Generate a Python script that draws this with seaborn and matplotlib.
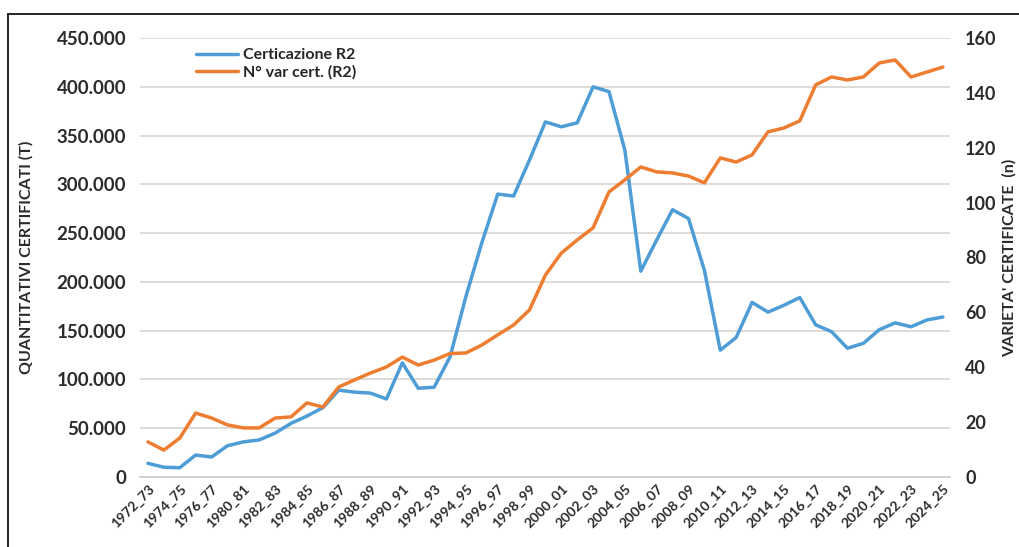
import numpy as np
import pandas as pd
import matplotlib
matplotlib.use("Agg")
import matplotlib.pyplot as plt
from matplotlib.lines import Line2D
from matplotlib.ticker import FuncFormatter
import seaborn as sns

# Stagioni (51 categorie, etichetta ogni 2)
seasons = (["1972_73", "1973_74", "1974_75", "1975_76", "1976_77", "1978_79"]
           + [f"{y}_{(y + 1) % 100:02d}" for y in range(1980, 2025)])

# Quantitativi certificati (t) - asse sinistro
cert_r2 = [14000, 10000, 9500, 22500, 20500, 32000, 36000, 38000, 45000, 55000,
           62500, 71000, 89000, 87000, 86000, 80000, 117000, 91000, 92000, 123000,
           185000, 240000, 290000, 288000, 325000, 364000, 359000, 363000, 400000, 395000,
           335000, 211000, 243000, 274000, 265000, 212000, 130000, 143000, 179000, 169000,
           176000, 184000, 156000, 149000, 132000, 137000, 151000, 158000, 154000, 161000,
           164000]

# Numero varieta' certificate - asse destro
n_var = [12.8, 9.8, 14.2, 23.3, 21.5, 19.0, 17.9, 17.9, 21.5, 21.9,
         27.0, 25.5, 32.8, 35.4, 37.9, 40.1, 43.7, 40.8, 42.6, 45.0,
         45.2, 48.1, 51.8, 55.4, 60.9, 73.6, 81.6, 86.4, 90.8, 103.9,
         108.3, 113.0, 111.2, 110.8, 109.7, 107.2, 116.3, 114.8, 117.4, 125.8,
         127.2, 129.8, 142.9, 145.8, 144.7, 145.8, 150.9, 152.0, 145.8, 147.6,
         149.4]

BLUE = "#4E9DD6"
ORANGE = "#ED7D31"
TXT = "#2b2b2b"

df = pd.DataFrame({"idx": np.arange(len(seasons)), "stagione": seasons,
                   "cert": cert_r2, "nvar": n_var})

sns.set_theme(style="white")
plt.rcParams["font.family"] = ["Lato", "DejaVu Sans"]

fig = plt.figure(figsize=(10.2, 5.47), dpi=100)
ax = fig.add_axes([140 / 1020, 70 / 547, 810 / 1020, 439 / 547])
ax2 = ax.twinx()

sns.lineplot(data=df, x="idx", y="cert", ax=ax, color=BLUE, linewidth=2.5)
sns.lineplot(data=df, x="idx", y="nvar", ax=ax2, color=ORANGE, linewidth=2.5)

ax.set_xlim(-0.5, len(seasons) - 0.55)
ax.set_ylim(0, 450000)
ax2.set_ylim(0, 160)
ax.set_yticks(np.arange(0, 450001, 50000))
ax2.set_yticks(np.arange(0, 161, 20))
ax.yaxis.set_major_formatter(FuncFormatter(lambda v, p: f"{v:,.0f}".replace(",", ".")))

ax.grid(axis="y", color="#d9d4d0", linewidth=1.2)
ax.set_axisbelow(True)
for a in (ax, ax2):
    for s in a.spines.values():
        s.set_visible(False)
ax.spines["bottom"].set_visible(True)
ax.spines["bottom"].set_color("#cfcac6")
ax.spines["bottom"].set_linewidth(1.2)

ax.set_xticks(df["idx"][::2])
ax.set_xticklabels(df["stagione"][::2], rotation=45, ha="right",
                   rotation_mode="anchor", fontsize=10, fontweight="bold", color=TXT)
ax.tick_params(axis="x", length=0, pad=4)
ax.tick_params(axis="y", length=0, pad=10, labelsize=13.5, labelcolor=TXT)
ax2.tick_params(axis="y", length=0, pad=11, labelsize=13, labelcolor=TXT)
for lab in ax.get_yticklabels() + ax2.get_yticklabels():
    lab.set_fontweight("bold")

ax.set_xlabel("")
ax.set_ylabel("QUANTITATIVI CERTIFICATI (T)", fontsize=11.5, fontweight="bold", color=TXT)
ax.yaxis.set_label_coords(-106 / 810, 0.5)
ax2.set_ylabel("VARIETA' CERTIFICATE  (n)", fontsize=11.5, fontweight="bold", color=TXT,
               rotation=90)
ax2.yaxis.set_label_coords(1 + 52 / 810, 0.5)

handles = [Line2D([], [], color=BLUE, linewidth=2.5),
           Line2D([], [], color=ORANGE, linewidth=2.5)]
ax.legend(handles, ["Certicazione R2", "N° var cert. (R2)"], loc="upper left",
          bbox_to_anchor=(42 / 810, 1.01), frameon=False,
          handlelength=2.6, handletextpad=0.3, labelspacing=0.2,
          prop={"weight": "bold", "size": 11.5})

# cornice
fig.add_artist(Line2D([8 / 1020, 1.0], [1 - 14 / 547, 1 - 14 / 547], color="black", linewidth=1.2))
fig.add_artist(Line2D([8 / 1020, 8 / 1020], [0, 1 - 14 / 547], color="black", linewidth=1.2))

fig.savefig("out.png", dpi=100)
print("Saved: out.png")
